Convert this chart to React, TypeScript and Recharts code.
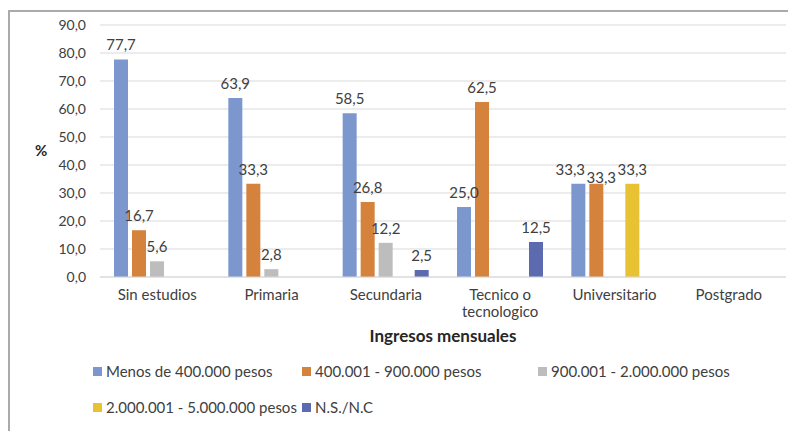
import React from 'react';
import { BarChart, Bar, XAxis, YAxis, CartesianGrid, LabelList } from 'recharts';

const categories = ['Sin estudios', 'Primaria', 'Secundaria', 'Tecnico o tecnologico', 'Universitario', 'Postgrado'];
const menos400 = [77.7, 63.9, 58.5, 25.0, 33.3, null];
const r400_900 = [16.7, 33.3, 26.8, 62.5, 33.3, null];
const r900_2000 = [5.6, 2.8, 12.2, null, null, null];
const r2000_5000 = [null, null, null, null, 33.3, null];
const nsnc = [null, null, 2.5, 12.5, null, null];
const yTicks = [0, 10, 20, 30, 40, 50, 60, 70, 80, 90];

const series = [
  { key: 's1', name: 'Menos de 400.000 pesos', values: menos400, color: '#7B97CD' },
  { key: 's2', name: '400.001 - 900.000 pesos', values: r400_900, color: '#D4823C' },
  { key: 's3', name: '900.001 - 2.000.000 pesos', values: r900_2000, color: '#BDBDBD' },
  { key: 's4', name: '2.000.001 - 5.000.000 pesos', values: r2000_5000, color: '#E9C233' },
  { key: 's5', name: 'N.S./N.C', values: nsnc, color: '#5C6AAF' },
];

// label nudges to avoid overlapping labels (as in the original)
const labelNudge: Record<string, [number, number]> = {
  's1-4': [-8, 0],
  's2-4': [5, 8],
  's4-4': [2, 0],
};

const data = categories.map((c, i) => {
  const row: any = { category: c };
  series.forEach((s) => { row[s.key] = s.values[i]; });
  return row;
});

const FONT = 'Lato, "Open Sans", sans-serif';
const TXT = '#404040';

const fmt = (v: any) => (v === null || v === undefined ? '' : Number(v).toFixed(1).replace('.', ','));

function wrap(text: string, max: number) {
  const words = text.split(' ');
  const lines: string[] = [];
  let cur = '';
  words.forEach((w) => {
    const t = cur ? cur + ' ' + w : w;
    if (t.length > max && cur) { lines.push(cur); cur = w; } else cur = t;
  });
  if (cur) lines.push(cur);
  return lines;
}

const CatTick = (props: any) => {
  const { x, y, payload } = props;
  const lines = wrap(String(payload.value), 12);
  return (
    <text x={x} y={y} textAnchor="middle" fill={TXT} fontSize={15} fontFamily={FONT}>
      {lines.map((l, i) => (
        <tspan key={i} x={x} dy={i === 0 ? 15 : 17}>{l}</tspan>
      ))}
    </text>
  );
};

const makeLabel = (skey: string) => (props: any) => {
  const { x, y, width, value, index } = props;
  if (value === null || value === undefined) return null;
  const n = labelNudge[`${skey}-${index}`] || [0, 0];
  return (
    <text x={x + width / 2 + n[0]} y={y - 9 + n[1]} textAnchor="middle" fill={TXT} fontSize={15} fontFamily={FONT}>
      {fmt(value)}
    </text>
  );
};

export default function App() {
  return (
    <div style={{ position: 'relative', width: 788, height: 423, fontFamily: FONT, background: '#fff' }}>
      <div style={{ position: 'absolute', left: 0, top: 2, width: 788, height: 421, borderTop: '2px solid #aaa', borderLeft: '2px solid #aaa', boxSizing: 'border-box' }} />
      <div style={{ position: 'absolute', left: 0, top: 0 }}>
        <BarChart width={788} height={423} data={data} margin={{ top: 17, right: 10, bottom: 0, left: 0 }} barCategoryGap={14} barGap={4}>
          <CartesianGrid horizontal vertical={false} stroke="#d9d9d9" />
          <XAxis
            dataKey="category"
            height={154}
            axisLine={{ stroke: '#d9d9d9' }}
            tickLine={false}
            interval={0}
            tick={<CatTick />}
            label={{
              content: (p: any) => {
                const vb = p.viewBox;
                return (
                  <text x={vb.x + vb.width / 2} y={vb.y + 65} textAnchor="middle" fontSize={17} fontWeight="bold" fill="#262626" fontFamily={FONT}>
                    Ingresos mensuales
                  </text>
                );
              },
            }}
          />
          <YAxis
            width={92}
            domain={[0, 90]}
            ticks={yTicks}
            tickFormatter={fmt}
            axisLine={false}
            tickLine={false}
            tickSize={6}
            tickMargin={8}
            tick={{ fill: TXT, fontSize: 14, fontFamily: FONT }}
            label={{ value: '%', position: 'insideLeft', offset: 27, fontSize: 15, fontWeight: 'bold', fill: '#262626', fontFamily: FONT }}
          />
          {series.map((s) => (
            <Bar key={s.key} dataKey={s.key} name={s.name} fill={s.color} isAnimationActive={false}>
              <LabelList dataKey={s.key} content={makeLabel(s.key)} />
            </Bar>
          ))}
        </BarChart>
      </div>
      {series.map((s, i) => {
        const colLefts = [85, 294, 530];
        const row = Math.floor(i / 3);
        const col = i % 3;
        return (
          <div key={s.key} style={{ position: 'absolute', left: colLefts[col], top: 354 + row * 36, height: 18, display: 'flex', alignItems: 'center', whiteSpace: 'nowrap', fontSize: 15, color: TXT, fontFamily: FONT }}>
            <span style={{ display: 'inline-block', width: 9, height: 9, background: s.color, marginRight: 4 }} />
            <span>{s.name}</span>
          </div>
        );
      })}
    </div>
  );
}
